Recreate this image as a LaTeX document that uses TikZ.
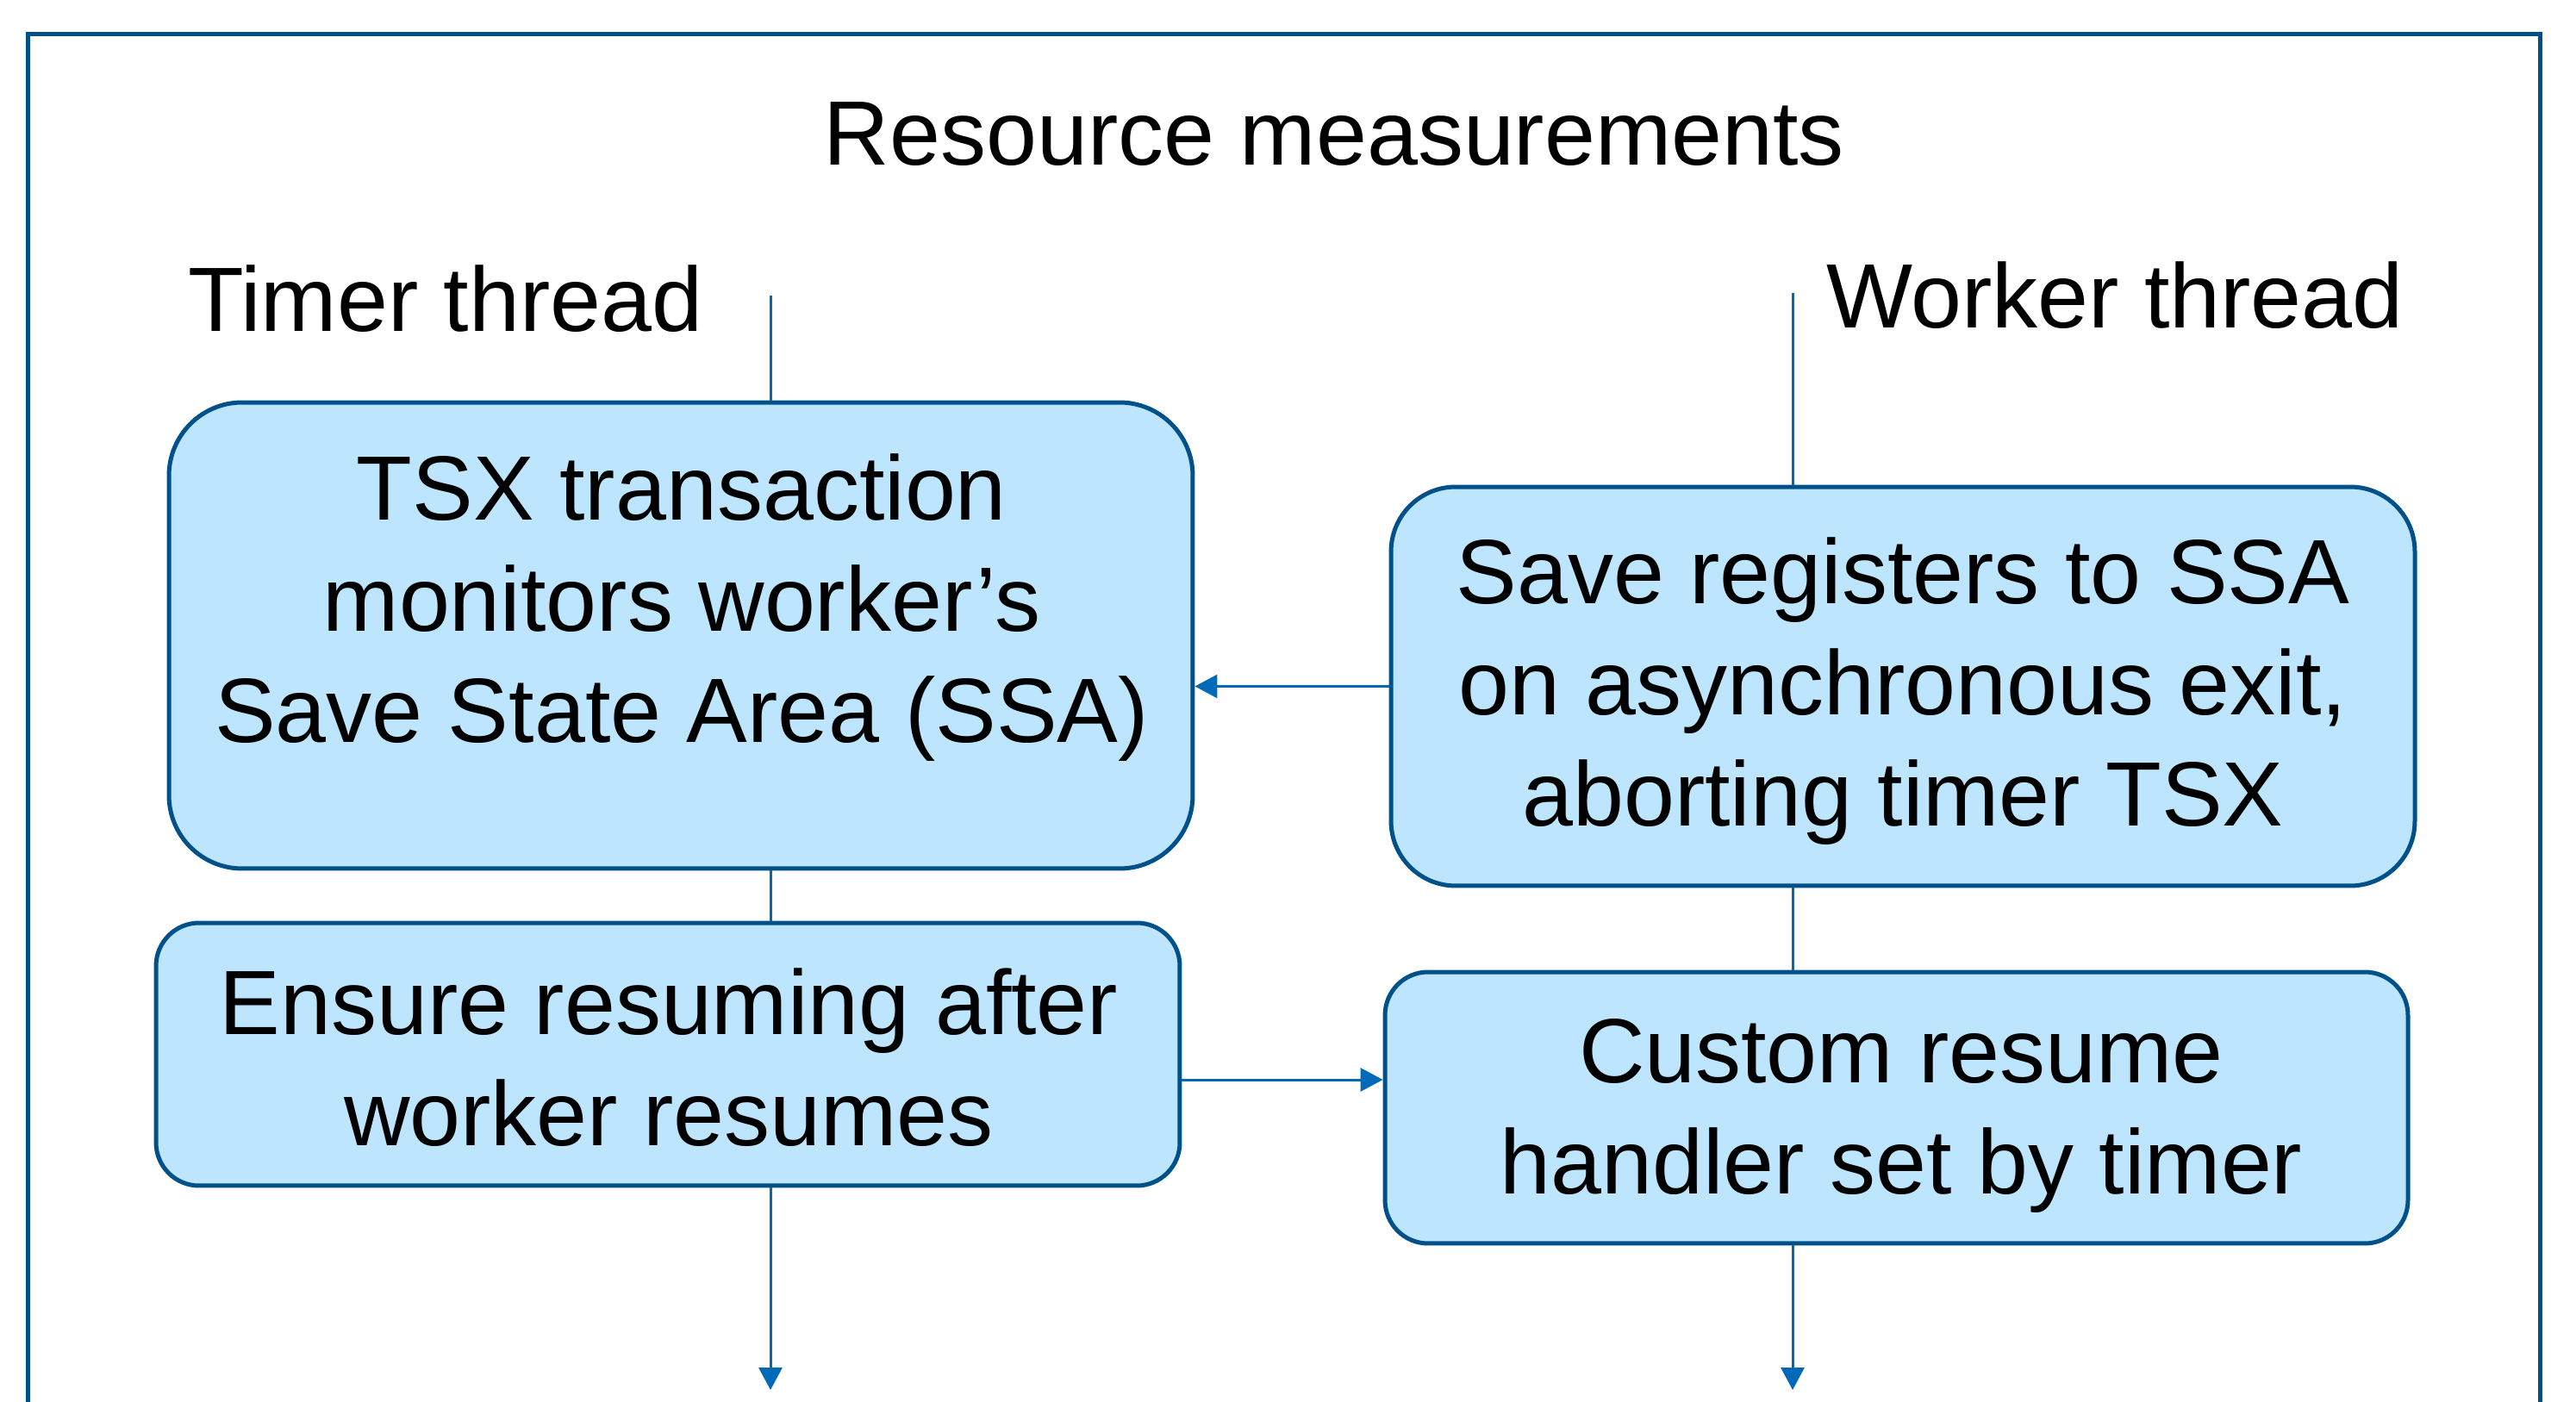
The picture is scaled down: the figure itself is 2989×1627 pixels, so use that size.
\documentclass[tikz,border=0pt]{standalone}
\usepackage{fontspec}
\setmainfont{Liberation Sans}
\usetikzlibrary{arrows.meta}
\definecolor{boxfill}{RGB}{190,229,254}
\definecolor{boxline}{RGB}{0,80,138}
\definecolor{connblue}{RGB}{0,106,184}
\begin{document}
\begin{tikzpicture}[x=0.1pt,y=-0.1pt,
  box/.style={draw=boxline, fill=boxfill, line width=0.5pt, rounded corners=#1, inner sep=0pt},
  txt/.style={font=\fontsize{10.6pt}{12.9pt}\selectfont, align=center, text=black, inner sep=0pt},
  conn/.style={draw=connblue, line width=0.3pt},
  arr/.style={conn, -{Triangle[length=2.6pt,width=2.7pt]}},
  frame/.style={draw=boxline, line width=0.5pt, line join=miter}]
\useasboundingbox (0,0) rectangle (2989,1627);
% outer frame (open at bottom, cut by page)
\draw[frame] (32,1627) -- (32,40) -- (2947,40) -- (2947,1627);
% titles
\node[txt] (title) at (1548,156) {Resource measurements};
\node[txt] (timer) at (517,347) {Timer thread};
\node[txt] (worker) at (2454,343) {Worker thread};
% boxes
\node[box=8.5pt, minimum width=118.8pt, minimum height=54.1pt] (b1) at (790,737.5) {};
\node[txt] (t1) at (791,705) {TSX transaction\\monitors worker’s\\Save State Area (SSA)};
\node[box=7.5pt, minimum width=118.8pt, minimum height=46.3pt] (b2) at (2208,796.5) {};
\node[txt] (t2) at (2208,802) {Save registers to SSA\\on asynchronous exit,\\aborting timer TSX};
\node[box=5pt, minimum width=118.8pt, minimum height=30.5pt] (b3) at (775,1223.5) {};
\node[txt] (t3) at (776,1227) {Ensure resuming after\\worker resumes};
\node[box=5pt, minimum width=118.7pt, minimum height=31.5pt] (b4) at (2200.5,1285.5) {};
\node[txt] (t4) at (2206,1295) {Custom resume\\handler set by timer};
% thread lines
\coordinate (ttop) at (894,343);
\coordinate (tend) at (894,1613);
\coordinate (wtop) at (2080,340);
\coordinate (wend) at (2080,1613);
\coordinate (a2) at (0,1253);
\draw[conn] (ttop) -- (ttop |- b1.north);
\draw[conn] (ttop |- b1.south) -- (ttop |- b3.north);
\draw[arr] (ttop |- b3.south) -- (tend);
\draw[conn] (wtop) -- (wtop |- b2.north);
\draw[conn] (wtop |- b2.south) -- (wtop |- b4.north);
\draw[arr] (wtop |- b4.south) -- (wend);
% cross arrows
\draw[arr] (b2.west) -- (b1.east |- b2.west);
\draw[arr] (b3.east |- a2) -- (b4.west |- a2);
\end{tikzpicture}
\end{document}
